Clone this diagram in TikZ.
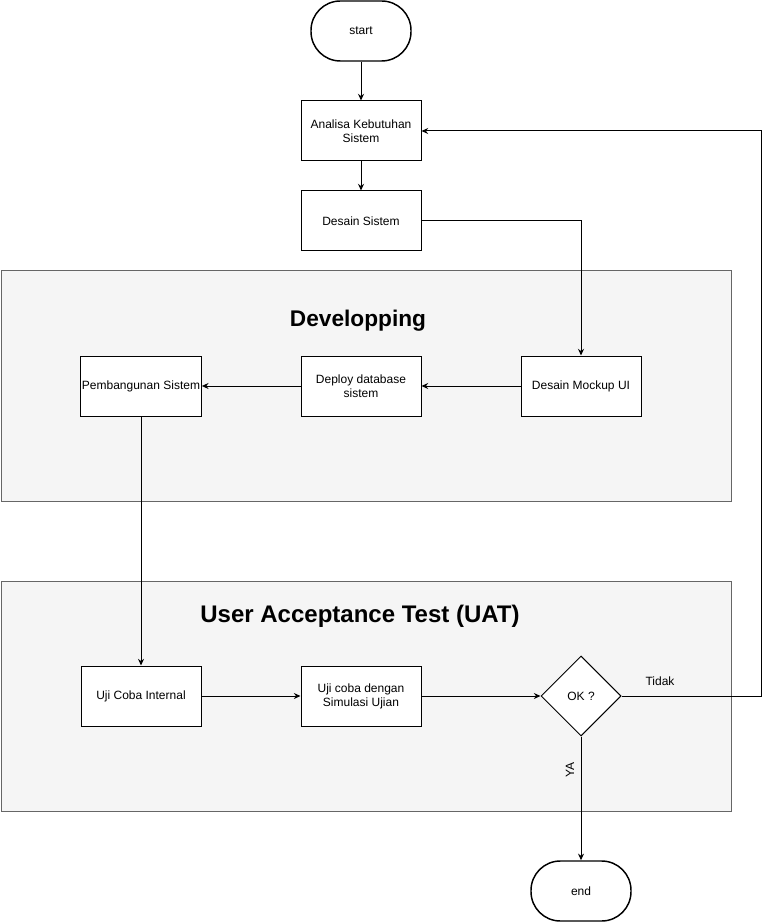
\documentclass[tikz,border=0pt]{standalone}
\usepackage{fontspec}
\setmainfont{Liberation Sans}
\usetikzlibrary{arrows.meta,shapes.geometric}
\definecolor{panelfill}{HTML}{F5F5F5}
\definecolor{panelline}{HTML}{666666}
\begin{document}
\begin{tikzpicture}[x=0.75pt,y=0.75pt]
\tikzstyle{every node}+=[font=\fontsize{9}{10.5}\selectfont]
\tikzstyle{box}=[draw=black, line width=0.75pt, fill=white, minimum width=90pt, minimum height=45pt, align=center, inner sep=1pt]
\tikzstyle{term}=[draw=black, line width=1.1pt, fill=white, rounded corners=22pt, minimum width=75pt, minimum height=45pt]
\tikzstyle{decide}=[draw=black, line width=0.75pt, fill=white, diamond, aspect=1, minimum width=60pt, minimum height=60pt, inner sep=0pt]
\tikzstyle{panel}=[draw=panelline, fill=panelfill, line width=0.75pt]
\tikzstyle{title}=[font=\fontsize{17}{20}\selectfont\bfseries]
\tikzstyle{flow}=[draw=black, line width=0.75pt, -{Stealth[length=5pt,width=4.5pt]}]
\useasboundingbox (0,0) rectangle (770,-923);
\draw [panel] (1,-271) rectangle (731,-501);
\draw [panel] (1,-581) rectangle (731,-811);
\node [title] (devtitle) at (358,-321) {Developping};
\node [title, font=\fontsize{18}{22}\selectfont\bfseries] (uattitle) at (360,-616) {User Acceptance Test (UAT)};
\node [term] (start) at (361,-31) {start};
\node [box] (ana) at (361,-131) {Analisa Kebutuhan\\Sistem};
\node [box] (dsn) at (361,-221) {Desain Sistem};
\node [box] (mock) at (581,-386) {Desain Mockup UI};
\node [box] (deploy) at (361,-386) {Deploy database\\sistem};
\node [box] (bang) at (141,-386) {Pembangunan Sistem};
\node [box] (uji) at (141,-696) {Uji Coba Internal};
\node [box] (sim) at (361,-696) {Uji coba dengan\\Simulasi Ujian};
\node [decide] (ok) at (581,-696) {OK ?};
\node [term] (end) at (581,-891) {end};
\coordinate (back) at (761,-696);
\node (tidak) at (660,-681) {Tidak};
\node [rotate=90] (ya) at (570,-770) {YA};
\draw [flow] (start) -- (ana);
\draw [flow] (ana) -- (dsn);
\draw [flow] (dsn.east) -| (mock.north);
\draw [flow] (mock) -- (deploy);
\draw [flow] (deploy) -- (bang);
\draw [flow] (bang) -- (uji);
\draw [flow] (uji) -- (sim);
\draw [flow] (sim) -- (ok);
\draw [flow] (ok.east) -- (back) |- (ana.east);
\draw [flow] (ok.south) -- (end.north);
\end{tikzpicture}
\end{document}
